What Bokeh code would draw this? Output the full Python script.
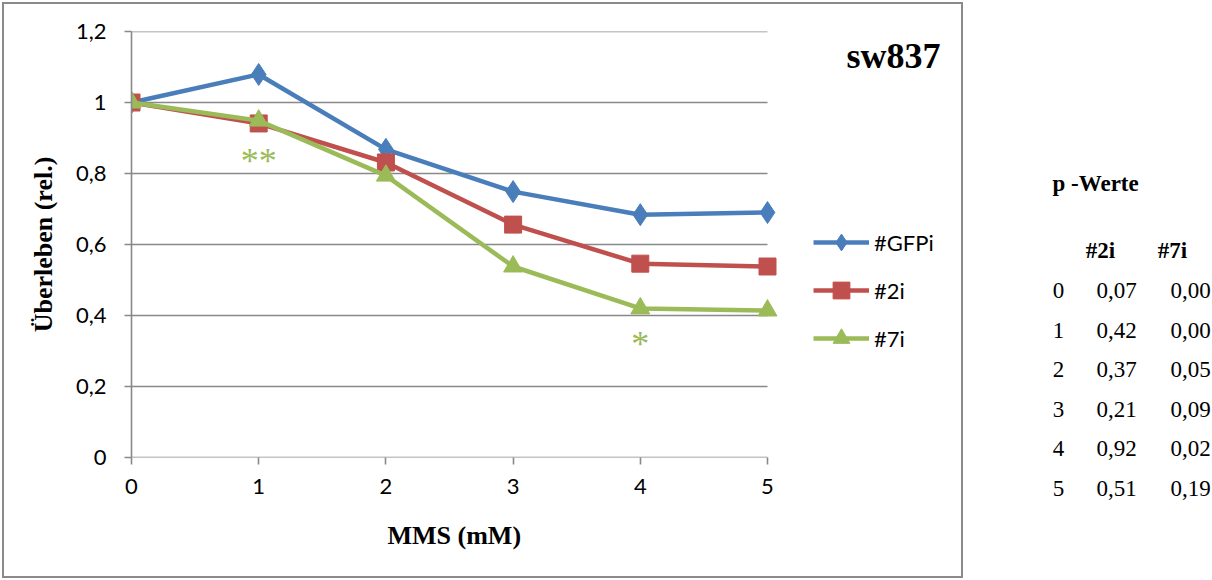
from bokeh.plotting import figure
from bokeh.layouts import row
from bokeh.models import FixedTicker, Label, Legend, LegendItem, Range1d, ColumnDataSource, Title
from bokeh.core.properties import value
from bokeh.embed import file_html
from bokeh.resources import INLINE

# ---- data ----
doses = [0, 1, 2, 3, 4, 5]
gfpi = [1.0, 1.079, 0.868, 0.749, 0.684, 0.690]
i2 = [1.0, 0.941, 0.831, 0.656, 0.546, 0.538]
i7 = [1.0, 0.949, 0.794, 0.538, 0.420, 0.414]
series_names = ["#GFPi", "#2i", "#7i"]

y_ticks = [0, 0.2, 0.4, 0.6, 0.8, 1.0, 1.2]
y_tick_labels = ["0", "0,2", "0,4", "0,6", "0,8", "1", "1,2"]
x_ticks = [0, 1, 2, 3, 4, 5]

sig_x = [1, 4]
sig_y = [0.845, 0.327]
sig_text = ["**", "*"]

p_title = "p -Werte"
p_rows = ["0", "1", "2", "3", "4", "5"]
p_2i = ["0,07", "0,42", "0,37", "0,21", "0,92", "0,51"]
p_7i = ["0,00", "0,00", "0,05", "0,09", "0,02", "0,19"]

BLUE = "#4A7EBB"
RED = "#C0504D"
GREEN = "#9BBB59"
GRID = "#898989"

# ---- main chart ----
MW, H = 965, 580
FL, FR, FT, FB = 131, 962, 31, 457   # frame edges (px)
unit = (767 - FL) / (x_ticks[-1] - x_ticks[0])   # px per mM on the plot area
x_end = (FR - FL) / unit

p = figure(width=MW, height=H, output_backend="svg", toolbar_location=None,
           x_range=Range1d(x_ticks[0], x_end), y_range=Range1d(y_ticks[0], y_ticks[-1]),
           min_border_left=FL, min_border_right=MW - FR,
           min_border_top=FT, min_border_bottom=H - FB)
p.outline_line_color = None
p.background_fill_color = None
p.border_fill_color = None
p.styles = {"box-shadow": "inset 0 0 0 2px white, inset 0 0 0 4px #8a8a8a",
            "background-color": "white"}

p.xgrid.grid_line_color = None
p.ygrid.grid_line_color = None
# horizontal gridlines across the plot area (0..5 mM)
p.segment(x0=x_ticks[0], x1=x_ticks[-1], y0=y_ticks, y1=y_ticks,
          line_color=GRID, line_width=1.6)

p.yaxis.ticker = FixedTicker(ticks=y_ticks)
p.yaxis.major_label_overrides = {t: l for t, l in zip(y_ticks, y_tick_labels)}
p.xaxis.ticker = FixedTicker(ticks=x_ticks)
for ax in (p.xaxis, p.yaxis):
    ax.axis_line_color = GRID
    ax.axis_line_width = 1.6
    ax.major_tick_line_color = GRID
    ax.major_tick_line_width = 1.6
    ax.major_tick_out = 7
    ax.major_tick_in = 0
    ax.minor_tick_line_color = None
    ax.major_label_text_font = "Lato"
    ax.major_label_text_font_size = "22px"
    ax.major_label_text_color = "black"
    ax.axis_label_text_font = "Liberation Serif"
    ax.axis_label_text_font_style = "bold"
    ax.axis_label_text_font_size = "26px"
    ax.axis_label_text_color = "black"
p.xaxis.axis_line_color = None   # the 0-gridline is the x-axis line
p.yaxis.major_label_standoff = 18
p.xaxis.major_label_standoff = 14
p.yaxis.axis_label = "Überleben (rel.)"
p.yaxis.axis_label_standoff = 15

xt = Title(text="MMS (mM)", align="left", offset=256, standoff=45,
           text_font="Liberation Serif", text_font_style="bold", text_font_size="26px",
           text_color="black")
p.add_layout(xt, "below")

src = ColumnDataSource(dict(x=doses, g=gfpi, a=i2, b=i7))
lg = p.line("x", "g", source=src, line_color=BLUE, line_width=4.5)
mg = p.scatter("x", "g", source=src, marker="diamond", size=22, fill_color=BLUE, line_color=BLUE)
la = p.line("x", "a", source=src, line_color=RED, line_width=4.5)
ma = p.scatter("x", "a", source=src, marker="square", size=17, fill_color=RED, line_color=RED)
lb = p.line("x", "b", source=src, line_color=GREEN, line_width=4.5)
mb = p.scatter("x", "b", source=src, marker="triangle", size=19, fill_color=GREEN, line_color=GREEN)

p.text(x=sig_x, y=sig_y, text=sig_text, text_color=GREEN, text_font=value("Liberation Serif"),
       text_font_size="36px", text_align="center", text_baseline="middle", y_offset=3)

legend = Legend(items=[LegendItem(label=series_names[0], renderers=[lg, mg]),
                       LegendItem(label=series_names[1], renderers=[la, ma]),
                       LegendItem(label=series_names[2], renderers=[lb, mb])],
                location=(682, 98), orientation="vertical")
legend.glyph_width = 56
legend.glyph_height = 42
legend.label_height = 20
legend.spacing = 6
legend.padding = 0
legend.margin = 0
legend.label_standoff = 5
legend.border_line_color = None
legend.background_fill_alpha = 0
legend.label_text_font = "Lato"
legend.label_text_font_size = "22px"
legend.label_text_color = "black"
p.add_layout(legend, "center")

p.add_layout(Label(x=809, y=402, x_units="screen", y_units="screen", text="sw837",
                   text_font="Liberation Serif", text_font_style="bold", text_font_size="36px",
                   text_align="right", text_baseline="alphabetic", text_color="black"))

# ---- p-value table ----
TW = 1212 - MW
t = figure(width=TW, height=H, output_backend="svg", toolbar_location=None,
           x_range=Range1d(MW, MW + TW), y_range=Range1d(H, 0),
           x_axis_type=None, y_axis_type=None, min_border=0)
t.outline_line_color = None
t.grid.visible = False
t.border_fill_color = None
t.background_fill_color = None
t.title.visible = False
for fig in (p, t):
    if "frame_align" in fig.properties():
        fig.frame_align = False

serif = value("Liberation Serif")
t.text(x=[1052], y=[183], text=[p_title], text_font=serif, text_font_style="bold",
       text_font_size="23px", text_align="left", text_baseline="middle", text_color="black")
t.text(x=[1100, 1172], y=[250, 250], text=series_names[1:], text_font=serif,
       text_font_style="bold", text_font_size="23px", text_align="center",
       text_baseline="middle", text_color="black")
row_y = [290 + 39.6 * i for i in range(len(p_rows))]
for cx, col in ((1058, p_rows), (1116, p_2i), (1190, p_7i)):
    t.text(x=[cx] * len(col), y=row_y, text=col, text_font=serif, text_font_size="23px",
           text_align="center", text_baseline="middle", text_color="black")

layout = row(p, t, spacing=0)
open("out.html", "w").write(file_html(layout, INLINE))
